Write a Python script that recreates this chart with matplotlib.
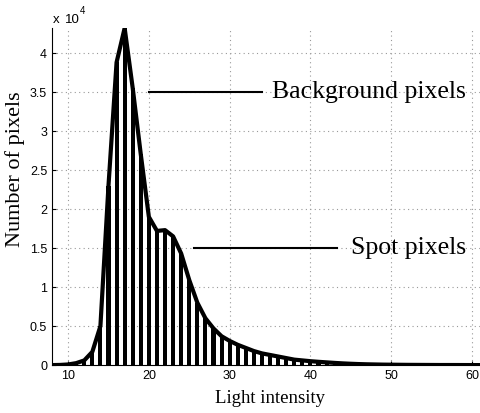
"""Histogram of light intensity with background / spot pixel annotations."""
import matplotlib
matplotlib.use("Agg")
import matplotlib.pyplot as plt
from matplotlib.ticker import FuncFormatter

# intensity bins and pixel counts (in pixels)
intensity = list(range(8, 62))
counts = [0, 20, 80, 250, 600, 1700, 5000, 23000, 38800, 43200,
          35500, 27000, 19000, 17200, 17300, 16500, 14300, 10900, 8000, 6000,
          4700, 3700, 3100, 2600, 2200, 1800, 1500, 1300, 1100, 900,
          700, 600, 500, 420, 350, 280, 220, 170, 130, 100,
          80, 60, 50, 40, 30, 25, 20, 15, 10, 10,
          8, 5, 3, 0]

xticks = [10, 20, 30, 40, 50, 60]
yticks = [0, 5000, 10000, 15000, 20000, 25000, 30000, 35000, 40000]

fig = plt.figure(figsize=(4.81, 4.13), dpi=100)
ax = fig.add_axes([0.108, 0.116, 0.89, 0.816])

ax.bar(intensity, counts, width=0.5, color="black", zorder=2)
ax.plot(intensity, counts, color="black", lw=3.0, solid_joinstyle="round",
        solid_capstyle="round", zorder=3)

ax.set_xlim(8, 61)
ax.set_ylim(0, max(counts))
ax.set_xticks(xticks)
ax.set_yticks(yticks)
ax.yaxis.set_major_formatter(FuncFormatter(lambda v, p: f"{v / 1e4:g}"))
ax.grid(True, color="0.6", linestyle=(0, (1, 3)), linewidth=0.8, zorder=0)
ax.tick_params(direction="in", length=3, labelsize=9, colors="black")
for lbl in ax.get_xticklabels() + ax.get_yticklabels():
    lbl.set_fontfamily("Liberation Sans")
for s in ["top", "right"]:
    ax.spines[s].set_visible(False)

# MATLAB-style exponent label
fig.text(53 / 481, 1 - 23 / 413, "x", fontsize=9.5, family="Liberation Sans",
         ha="left", va="baseline")
fig.text(65 / 481, 1 - 23 / 413, "10", fontsize=9.5, family="Liberation Sans",
         ha="left", va="baseline")
fig.text(80 / 481, 1 - 14 / 413, "4", fontsize=7, family="Liberation Sans",
         ha="left", va="baseline")

ax.set_xlabel("Light intensity", family="Liberation Serif", fontsize=13.5)
ax.set_ylabel("Number of pixels", family="Liberation Serif", fontsize=16)
ax.xaxis.set_label_coords(0.51, -0.075)
ax.yaxis.set_label_coords(-0.062, 0.58)

# annotations
ax.plot([20, 34], [35000, 35000], color="black", lw=1.5)
ax.text(35.2, 35000, "Background pixels", family="Liberation Serif",
        fontsize=18.5, va="center", ha="left")
ax.plot([25.6, 43.3], [15000, 15000], color="black", lw=1.5)
ax.text(45.0, 15000, "Spot pixels", family="Liberation Serif",
        fontsize=18.5, va="center", ha="left")

fig.savefig("out.png", dpi=100)
